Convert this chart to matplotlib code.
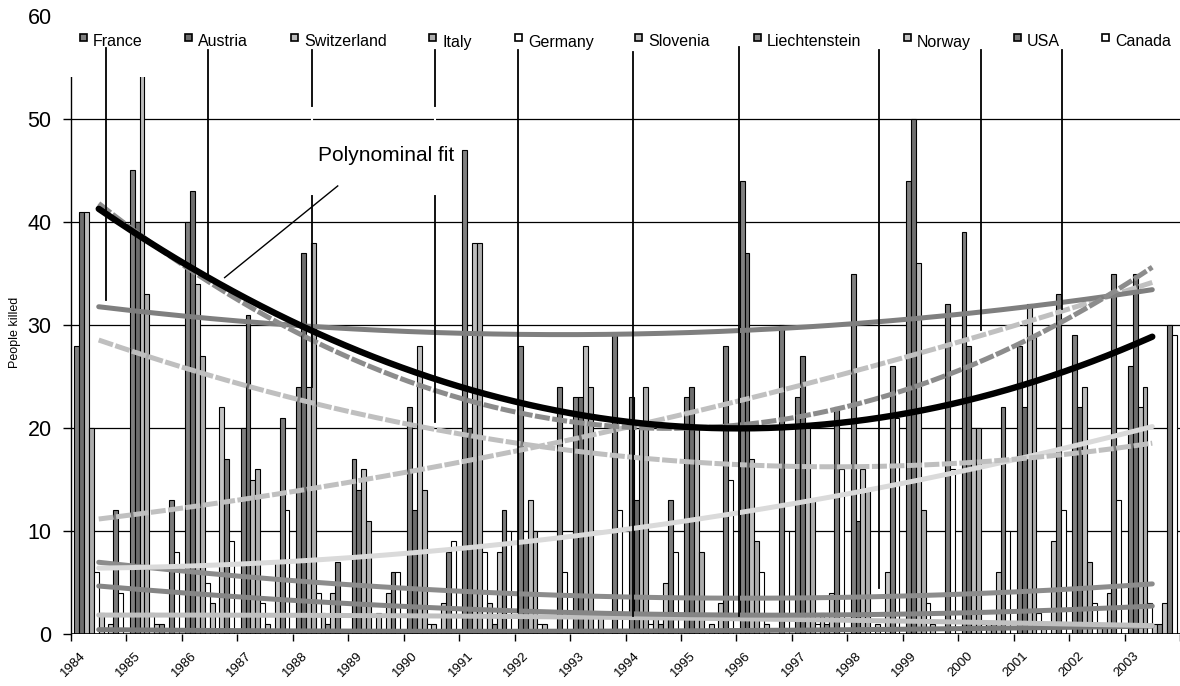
import numpy as np
import matplotlib
matplotlib.use("Agg")
import matplotlib.pyplot as plt
from matplotlib.patches import Rectangle
import matplotlib.transforms as mtransforms

plt.rcParams['font.family'] = ['Liberation Sans', 'DejaVu Sans']

years = [str(y) for y in range(1984, 2004)]
countries = ["France", "Austria", "Switzerland", "Italy", "Germany",
             "Slovenia", "Liechtenstein", "Norway", "USA", "Canada"]

# people killed per year, one list per country (1984 .. 2003)
france        = [28, 45, 40, 20, 24, 17, 22, 47, 28, 23, 23, 23, 44, 23, 35, 44, 39, 28, 29, 26]
austria       = [41, 40, 43, 31, 37, 14, 12, 20,  9, 23, 13, 24, 37, 27, 11, 50, 28, 22, 22, 35]
switzerland   = [41, 55, 34, 15, 24, 16, 28, 38, 13, 28, 20, 20, 17, 20, 16, 36, 20, 32, 24, 22]
italy         = [20, 33, 27, 16, 38, 11, 14, 38, 10, 24, 24,  8,  9, 13, 14, 12, 20, 29,  7, 24]
germany       = [ 6,  2,  5,  3,  4,  0,  1,  8,  1,  2,  1,  0,  6,  1,  0,  3,  1,  2,  3,  3]
slovenia      = [ 2,  1,  3,  1,  2,  2,  1,  3,  1,  2,  2,  1,  1,  2,  1,  1,  1,  1,  1,  1]
liechtenstein = [ 0,  1,  0,  0,  1,  0,  0,  1,  0,  0,  1,  0,  0,  1,  0,  0,  1,  0,  1,  1]
norway        = [ 1,  0, 22,  7,  4,  4,  3,  8,  0,  0,  5,  3,  0,  4,  6,  0,  6,  9,  4,  3]
usa           = [12, 13, 17, 21,  7,  6,  8, 12, 24, 29, 13, 28, 30, 22, 26, 32, 22, 33, 35, 30]
canada        = [ 4,  8,  9, 12,  0,  6,  9, 10,  6, 12,  8, 15, 10, 16, 21, 16, 10, 12, 13, 29]

series = [france, austria, switzerland, italy, germany,
          slovenia, liechtenstein, norway, usa, canada]

bar_colors = ["#808080", "#6e6e6e", "#bdbdbd", "#acacac", "#ffffff",
              "#c0c0c0", "#8c8c8c", "#c4c4c4", "#7a7a7a", "#ffffff"]
trend_colors = ["#7f7f7f", "#8c8c8c", "#000000", "#bfbfbf", "#858585",
                "#c0c0c0", "#7a7a7a", "#8c8c8c", "#c0c0c0", "#dadada"]
trend_dashed = [False, True, False, True, False, False, False, False, True, False]
trend_width = [3.6, 3.6, 4.6, 3.6, 3.6, 3.6, 3.6, 3.6, 3.6, 3.6]

W, H = 1180, 686
fig = plt.figure(figsize=(W / 100, H / 100), dpi=100)
ax = fig.add_axes([71 / W, (H - 634) / H, (W - 71) / W, (634 - 16) / H])

n_years = len(years)
n_ser = len(series)
x = np.arange(n_years)
group = 0.88
w = group / n_ser

ax.set_xlim(-0.5, n_years - 0.5)
ax.set_ylim(0, 60)

for yv in range(10, 60, 10):
    ax.axhline(yv, color="black", lw=0.9, zorder=1)

for i, (vals, col) in enumerate(zip(series, bar_colors)):
    ax.bar(x + (i - (n_ser - 1) / 2) * w, vals, w, color=col,
           edgecolor="black", linewidth=0.8, zorder=2)

# second-order polynomial trend of every country
xs = np.linspace(0, n_years - 1, 300)
order = [6, 5, 4, 7, 9, 3, 8, 0, 1, 2]
for i in order:
    coef = np.polyfit(x, series[i], 2)
    ls = (0, (3.0, 0.5)) if trend_dashed[i] else "-"
    ax.plot(xs, np.polyval(coef, xs), color=trend_colors[i],
            lw=trend_width[i], ls=ls, zorder=3,
            solid_capstyle="round", dash_capstyle="butt")

# axes styling
for s in ["top", "right", "bottom"]:
    ax.spines[s].set_visible(False)
ax.spines["left"].set_linewidth(1.0)
ax.axhline(0, color="black", lw=1.2, zorder=5)

ax.set_yticks(range(0, 61, 10))
ax.tick_params(axis="y", direction="out", length=6, width=1,
               labelsize=15.5, pad=8)
ax.yaxis.get_major_ticks()[-1].tick1line.set_visible(False)
ax.set_xticks(np.arange(-0.5, n_years, 1.0))
ax.set_xticklabels([])
ax.tick_params(axis="x", direction="out", length=5, width=1)
ax.set_xticks(x, minor=True)
ax.set_xticklabels(years, minor=True, rotation=45, ha="right", va="top",
                   fontsize=9.5)
ax.tick_params(axis="x", which="minor", length=0, pad=11)
offset = mtransforms.ScaledTranslation(-11 / 100, 0, fig.dpi_scale_trans)
for lab in ax.get_xticklabels(minor=True):
    lab.set_transform(lab.get_transform() + offset)

fig.text(15 / W, 1 - 332 / H, "People killed", rotation=90,
         ha="center", va="center", fontsize=9)

# white legend band across the top of the plot
ax.add_patch(Rectangle((-0.53, 54.1), n_years + 0.1, 7, facecolor="white",
                       edgecolor="none", zorder=6, clip_on=False))

# leader lines from the legend band into the plot
leaders = [(0.14, 56.9, 32.4), (1.97, 56.7, 34.5), (3.84, 56.7, 24.0),
           (6.06, 56.7, 20.6), (7.56, 56.7, 2.1), (9.63, 56.5, 1.7),
           (11.54, 57.0, 1.7), (14.08, 56.7, 4.5), (15.92, 56.7, 29.5),
           (17.38, 56.7, 31.6)]
for lx, y0, y1 in leaders:
    ax.plot([lx, lx], [y0, y1], color="black", lw=1.3, zorder=7)
for lx in (3.84, 6.06):
    ax.plot([lx, lx], [51.1, 42.7], color="white", lw=1.5, zorder=7)

# annotation
ax.text(3.95, 46.5, "Polynominal fit", fontsize=15, ha="left", va="center",
        zorder=8)
ax.plot([4.31, 2.27], [43.5, 34.6], color="black", lw=1.0, zorder=8)

# legend entries
leg_x = [80, 185, 291, 429, 515, 635, 754, 904, 1014, 1102]
for name, col, lx in zip(countries, bar_colors, leg_x):
    fig.patches.append(Rectangle((lx / W, 1 - 41 / H), 7 / W, 7 / H,
                                 transform=fig.transFigure, facecolor=col,
                                 edgecolor="black", lw=1.2, zorder=10))
    fig.text((lx + 13) / W, 1 - 42 / H, name, fontsize=11.5,
             ha="left", va="center", zorder=10)

fig.savefig("out.png", dpi=100)
